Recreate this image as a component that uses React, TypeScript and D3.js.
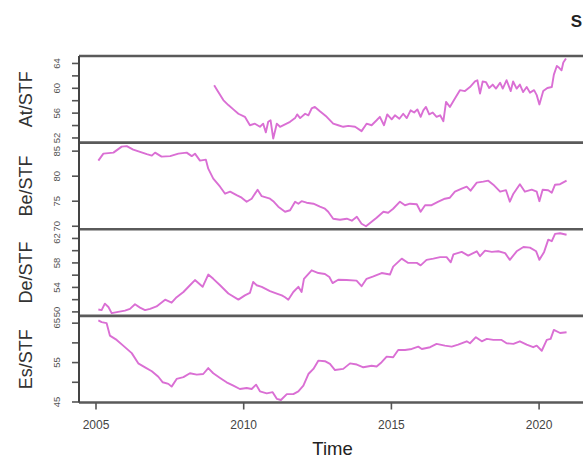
import React from "react";
import * as d3 from "d3";

const panelNames = ["At/STF", "Be/STF", "De/STF", "Es/STF"];

const atT = [2009.0,2009.14,2009.31,2009.48,2009.65,2009.82,2010.04,2010.21,2010.38,2010.55,2010.66,2010.75,2010.83,2010.91,2011.0,2011.12,2011.23,2011.4,2011.57,2011.74,2011.81,2011.91,2012.08,2012.19,2012.3,2012.41,2012.58,2012.81,2013.03,2013.2,2013.37,2013.54,2013.77,2013.99,2014.16,2014.33,2014.5,
  2014.61,2014.75,2014.86,2015.01,2015.12,2015.27,2015.4,2015.52,2015.65,2015.77,2015.88,2015.99,2016.08,2016.17,2016.28,2016.4,2016.53,2016.65,2016.76,2016.85,2016.98,2017.12,2017.32,2017.49,2017.66,2017.83,2017.91,2018.0,2018.09,2018.2,2018.31,2018.43,2018.54,2018.68,2018.77,2018.9,2019.04,2019.12,2019.24,2019.35,2019.46,2019.58,2019.69,2019.83,2019.92,2020.01,2020.14,2020.28,2020.43,2020.5,2020.6,2020.68,2020.76,2020.82,2020.91];
const atV = [60.5,59.4,58.1,57.3,56.6,55.9,55.4,54.05,54.3,53.8,54.3,52.9,54.6,54.85,51.9,54.3,53.8,54.2,54.6,55.2,55.8,55.2,55.9,55.65,56.75,57.0,56.3,55.4,54.3,54.05,53.8,53.95,53.8,53.1,54.3,54.05,54.85,
  55.4,54.05,55.8,55.0,55.65,55.1,55.9,55.2,56.45,56.1,56.6,55.4,56.45,57.0,55.8,56.1,55.4,55.65,54.7,57.8,57.0,58.1,59.7,59.55,60.2,61.1,61.3,59.15,61.1,61.0,60.05,60.6,59.95,60.9,59.95,61.3,59.55,61.1,59.95,60.6,59.4,60.2,59.3,59.7,58.9,57.4,59.55,60.05,60.2,62.2,63.6,63.3,62.9,64.15,64.8];

const beT = [2005.08,2005.25,2005.59,2005.87,2006.04,2006.26,2006.72,2006.89,2007.0,2007.22,2007.51,2007.79,2008.07,2008.24,2008.35,2008.52,2008.72,2008.8,2008.97,2009.2,2009.37,2009.54,2009.76,2009.93,2010.1,2010.27,2010.47,2010.61,2010.89,2011.0,2011.17,2011.4,2011.57,2011.74,2011.85,2011.96,2012.13,2012.36,2012.58,2012.75,2012.86,2013.03,2013.26,2013.49,2013.66,2013.83,2013.99,2014.14,2014.33,2014.5,2014.73,2014.89,2015.06,2015.29,2015.46,2015.63,2015.86,2015.99,2016.14,2016.36,2016.59,2016.81,2016.98,2017.15,2017.38,2017.55,2017.68,2017.89,2018.11,2018.28,2018.45,2018.68,2018.88,2019.01,2019.13,2019.35,2019.52,2019.75,2019.92,2020.01,2020.12,2020.31,2020.43,2020.54,2020.71,2020.93];
const beV = [83.1,84.5,84.7,85.9,86.0,85.3,84.4,84.1,84.7,83.9,84.0,84.5,84.7,84.0,84.5,83.1,83.3,81.5,79.5,77.9,76.5,76.9,76.2,75.7,74.9,75.5,77.3,76.0,75.5,75.0,73.9,72.9,73.2,74.9,74.5,75.0,74.7,74.5,73.9,73.5,72.9,71.5,71.3,71.5,71.1,71.9,70.5,70.0,70.9,71.7,72.9,72.7,73.5,74.9,74.2,74.5,74.4,72.9,74.2,74.2,74.9,75.5,75.7,76.9,77.5,77.9,77.1,78.7,78.9,79.1,78.3,76.9,77.2,74.9,76.5,78.4,76.9,77.3,76.9,75.0,77.3,77.2,76.7,78.3,78.4,79.1];

const deT = [2005.08,2005.19,2005.3,2005.42,2005.53,2005.75,2005.98,2006.15,2006.32,2006.49,2006.66,2006.83,2007.05,2007.34,2007.56,2007.73,2007.96,2008.18,2008.35,2008.61,2008.8,2008.97,2009.2,2009.48,2009.82,2010.04,2010.21,2010.32,2010.44,2010.61,2010.89,2011.12,2011.29,2011.4,2011.51,2011.68,2011.85,2011.96,2012.04,2012.3,2012.53,2012.75,2012.9,2013.01,2013.2,2013.48,2013.82,2013.99,2014.16,2014.39,2014.67,2014.95,2015.06,2015.35,2015.57,2015.86,2015.99,2016.19,2016.42,2016.65,2016.87,2017.01,2017.1,2017.38,2017.6,2017.89,2018.0,2018.17,2018.4,2018.62,2018.85,2019.01,2019.24,2019.47,2019.69,2019.9,2020.01,2020.17,2020.31,2020.43,2020.54,2020.71,2020.93];
const deV = [50.4,50.3,51.35,50.8,49.8,50.0,50.2,50.5,51.25,50.7,50.3,50.5,50.9,52.0,51.5,52.4,53.25,54.35,55.2,54.1,56.1,55.4,54.35,53.0,52.0,52.7,53.1,54.9,54.35,54.1,53.4,53.0,52.7,52.4,52.0,53.25,54.1,53.25,55.4,56.8,56.35,56.2,55.7,54.7,55.25,55.2,55.1,54.2,55.4,55.8,56.35,56.1,57.4,58.7,58.0,58.0,57.6,58.5,58.7,58.95,58.95,58.1,59.4,59.8,59.2,59.9,59.1,60.0,59.8,59.9,59.6,58.5,59.9,60.6,60.5,59.9,58.5,59.8,61.8,61.55,62.75,62.85,62.6];

const esT = [2005.08,2005.19,2005.36,2005.47,2005.7,2005.92,2006.21,2006.43,2006.66,2006.89,2007.11,2007.26,2007.45,2007.56,2007.73,2007.96,2008.18,2008.41,2008.63,2008.8,2008.97,2009.2,2009.42,2009.65,2009.87,2010.1,2010.27,2010.42,2010.55,2010.78,2010.98,2011.12,2011.26,2011.46,2011.68,2011.85,2012.02,2012.19,2012.36,2012.53,2012.75,2012.92,2013.09,2013.37,2013.6,2013.83,2014.05,2014.33,2014.5,2014.67,2014.84,2015.06,2015.23,2015.46,2015.69,2015.91,2016.03,2016.31,2016.53,2016.81,2017.04,2017.26,2017.55,2017.66,2017.86,2018.06,2018.23,2018.45,2018.73,2018.9,2019.13,2019.35,2019.58,2019.8,2019.92,2020.09,2020.26,2020.39,2020.5,2020.71,2020.93];
const esV = [65.7,65.25,65.0,61.85,60.75,59.3,57.4,54.8,53.8,52.8,51.4,50.0,49.6,48.9,50.85,51.3,52.3,51.95,52.1,53.6,52.3,51.1,50.0,49.15,48.3,48.55,48.3,49.4,47.7,47.2,47.5,45.8,45.5,47.0,47.0,47.7,49.15,52.1,53.4,55.5,55.35,54.65,53.1,53.4,54.8,54.5,53.8,54.2,54.0,55.1,56.5,56.35,58.2,58.2,58.45,59.05,58.45,58.9,59.75,59.3,59.05,59.55,60.4,59.9,61.45,60.4,61.0,60.75,60.75,59.9,59.75,60.4,59.55,58.9,59.3,58.0,60.75,61.0,63.3,62.5,62.7];

const seriesTimes = [atT, beT, deT, esT];
const seriesValues = [atV, beV, deV, esV];

const yDomains: [number, number][] = [[51.25, 65.2], [69.4, 86.7], [49.35, 63.5], [44.87, 66.85]];
const yTicks = [[52, 54, 56, 58, 60, 62, 64], [70, 75, 80, 85], [50, 52, 54, 56, 58, 60, 62], [45, 50, 55, 60, 65]];
const yTickLabels = [[52, 56, 60, 64], [70, 75, 80, 85], [50, 54, 58, 62], [45, 55, 65]];
const xTicks = [2005, 2010, 2015, 2020];
const xDomain: [number, number] = [2004.4245, 2021.554];
const titleText = "S";

const W = 583;
const H = 459;
const left = 79;
const right = 585;
const top = 56;
const bottom = 402.5;
const LINE = "#DA6FD4";

export default function App() {
  const x = d3.scaleLinear().domain(xDomain).range([left, right]);
  const ph = (bottom - top) / 4;
  const panels = panelNames.map((name, i) => {
    const y0 = top + i * ph;
    const y1 = y0 + ph;
    const y = d3.scaleLinear().domain(yDomains[i]).range([y1, y0]);
    const pts: [number, number][] = seriesTimes[i].map((t, k) => [t, seriesValues[i][k]]).filter((p) => p[1] !== undefined) as [number, number][];
    const line = d3.line<[number, number]>().x((d) => x(d[0])).y((d) => y(d[1]));
    return { name, y0, y1, y, path: line(pts) || "", i };
  });
  return (
    <svg width={W} height={H} style={{ position: "absolute", left: 0, top: 0, background: "#fff" }} fontFamily="'Liberation Sans', Arial, sans-serif">
      <rect x={0} y={0} width={W} height={H} fill="#fff" />
      <text x={582} y={27} fontSize={17} fontWeight="bold" fill="#222" textAnchor="end">{titleText}</text>
      {panels.map((p) => (
        <g key={p.name}>
          <path d={p.path} fill="none" stroke={LINE} strokeWidth={1.9} strokeLinejoin="round" />
          {yTicks[p.i].map((v) => (
            <line key={v} x1={left - 7} x2={left} y1={p.y(v)} y2={p.y(v)} stroke="#555" strokeWidth={1.6} />
          ))}
          {yTickLabels[p.i].map((v) => (
            <text key={v} transform={`translate(60,${p.y(v)}) rotate(-90)`} textAnchor="middle" fontSize={9.5} fill="#555">{v}</text>
          ))}
          <text transform={`translate(32,${(p.y0 + p.y1) / 2}) rotate(-90)`} textAnchor="middle" fontSize={18} fill="#333">{p.name}</text>
          <line x1={left} x2={W} y1={p.y0} y2={p.y0} stroke="#5a5a5a" strokeWidth={2.6} />
        </g>
      ))}
      <line x1={left} x2={W} y1={bottom} y2={bottom} stroke="#5a5a5a" strokeWidth={2.4} />
      <line x1={left} x2={left} y1={top} y2={bottom} stroke="#444" strokeWidth={2} />
      {xTicks.map((t) => (
        <g key={t}>
          <line x1={x(t)} x2={x(t)} y1={bottom} y2={bottom + 7} stroke="#555" strokeWidth={1.6} />
          <text x={x(t)} y={428.5} textAnchor="middle" fontSize={12} fill="#444">{t}</text>
        </g>
      ))}
      <text x={332.5} y={455} textAnchor="middle" fontSize={18.5} fill="#222">Time</text>
    </svg>
  );
}
